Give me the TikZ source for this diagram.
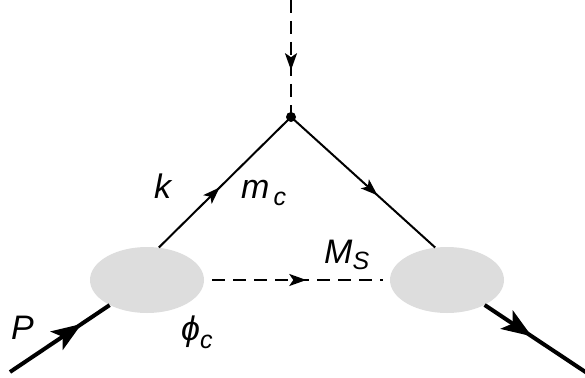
\documentclass[tikz,border=0pt]{standalone}
\usepackage{fontspec}
\setmainfont{Liberation Sans}
\usetikzlibrary{arrows.meta,decorations.markings,shapes.geometric}
\begin{document}
\begin{tikzpicture}[x=1pt,y=-1pt,
  blob/.style={ellipse,fill=blobgray,draw=none,inner sep=0pt,minimum width=114pt,minimum height=66pt},
  thin/.style={line width=2pt},
  thick/.style={line width=4pt},
  dashline/.style={line width=2pt,dash pattern=on 13pt off 8pt},
  midarrow/.style={postaction={decorate},decoration={markings,mark=at position #1 with {\arrow{Stealth[length=17pt,width=12pt,inset=4pt]}}}},
  bigarrow/.style={postaction={decorate},decoration={markings,mark=at position #1 with {\arrow{Stealth[length=30pt,width=22pt,inset=7pt]}}}},
  lab/.style={inner sep=0pt,anchor=base west,font=\fontsize{34}{40}\selectfont\itshape},
  dot/.style={circle,fill=black,inner sep=0pt,minimum size=10pt}
]
\definecolor{blobgray}{RGB}{221,221,221}
\useasboundingbox (0,0) rectangle (585,377);
\node[blob] (L) at (147,280) {};
\node[blob] (R) at (447,280) {};
\node[dot] (V) at (291,117) {};
\coordinate (T) at (291,0);
\coordinate (Pin) at (10,372);
\coordinate (Pout) at (587,373);
% connectors
\draw[dashline,midarrow=0.6] (T) -- (V.center);
\draw[thin,midarrow=0.46] (L.70) -- (V.center);
\draw[thin,midarrow=0.6] (V.center) -- (R.110);
\draw[dashline,midarrow=0.55,shorten <=8pt,shorten >=7pt] (L.east) -- (R.west);
\draw[thick,bigarrow=0.72] (Pin) -- (L);
\draw[thick,bigarrow=0.46] (R) -- (Pout);
% labels
\node[lab] (k) at (154,198) {k};
\node[lab] (m) at (241,198) {m\raisebox{-7pt}{\fontsize{25}{30}\selectfont\,c}};
\node[lab] (P) at (11,339) {P};
\node[lab] (phi) at (181,340) {ϕ\raisebox{-8pt}{\fontsize{25}{30}\selectfont c}};
\node[lab] (M) at (324,263) {M\raisebox{-6pt}{\fontsize{25}{30}\selectfont S}};
\end{tikzpicture}
\end{document}
